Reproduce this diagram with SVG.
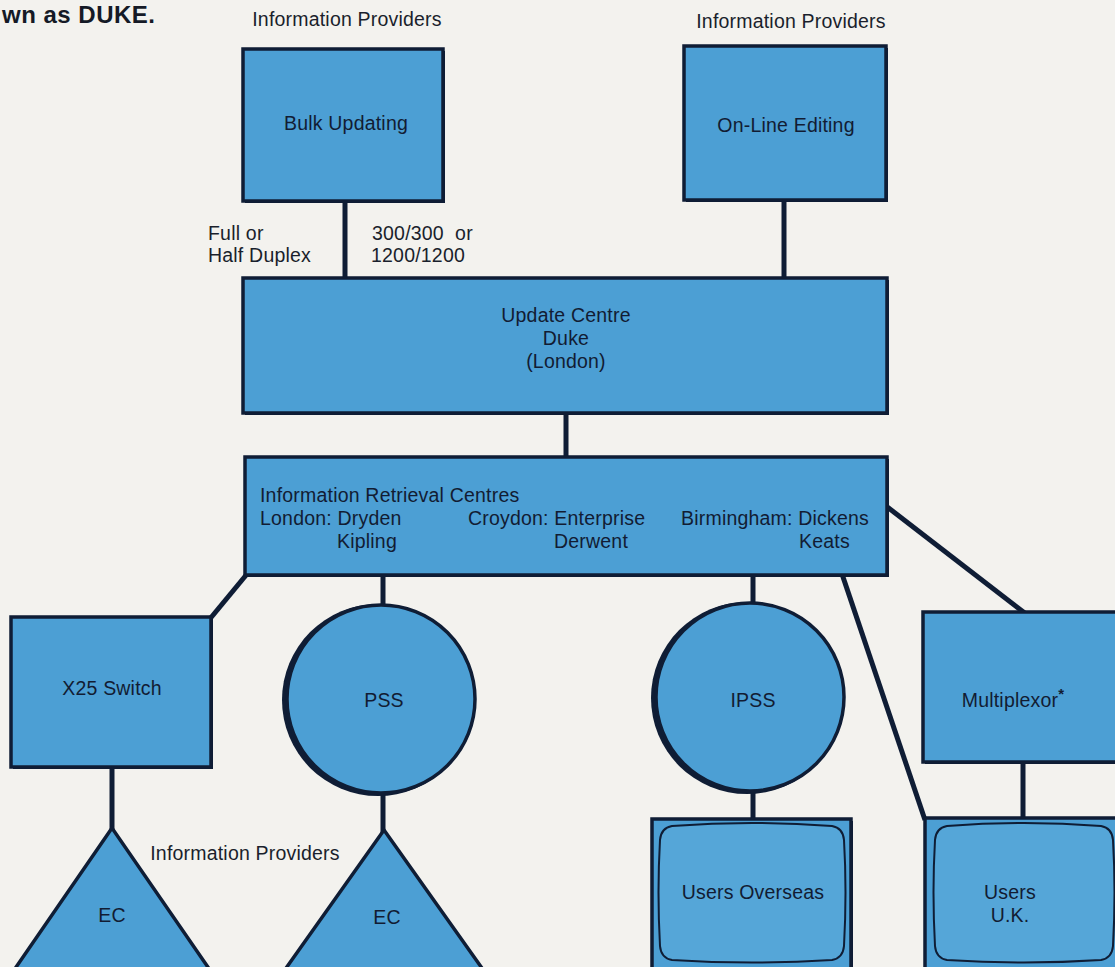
<svg xmlns="http://www.w3.org/2000/svg" width="1115" height="967" viewBox="0 0 1115 967">
<style>
  .bg { fill: #f3f2ee; }
  .box { fill: #4c9fd4; stroke: #0f1d35; stroke-width: 3.5; }
  .shadow { fill: #0f1d35; }
  .screen { fill: #55a6d8; stroke: #0f1d35; stroke-width: 2; }
  .wire { stroke: #0f1d35; stroke-width: 5; fill: none; stroke-linecap: butt; }
  text { font-family: "Liberation Sans", Arial, Helvetica, sans-serif; font-size: 19.5px; fill: #121c33; letter-spacing: 0.2px; }
  .lbl { fill: #1a1f2c; }
  .c { text-anchor: middle; }
  .title { font-weight: bold; font-size: 24px; fill: #151a26; letter-spacing: 0.5px; }
</style>
<rect class="bg" x="0" y="0" width="1115" height="967"/>

<g id="heading">
  <text class="title" x="2" y="23">wn as DUKE.</text>
</g>

<g id="connectors">
  <line class="wire" x1="345" y1="200" x2="345" y2="280"/>
  <line class="wire" x1="784" y1="199" x2="784" y2="280"/>
  <line class="wire" x1="566" y1="412" x2="566" y2="458"/>
  <line class="wire" x1="247" y1="574" x2="209" y2="620"/>
  <line class="wire" x1="383" y1="574" x2="383" y2="608"/>
  <line class="wire" x1="753" y1="574" x2="753" y2="605"/>
  <line class="wire" x1="842" y1="574" x2="925" y2="820"/>
  <line class="wire" x1="886" y1="506" x2="1026" y2="614"/>
  <line class="wire" x1="112" y1="766" x2="112" y2="832"/>
  <line class="wire" x1="383" y1="792" x2="383" y2="834"/>
  <line class="wire" x1="753" y1="792" x2="753" y2="821"/>
  <line class="wire" x1="1023" y1="761" x2="1023" y2="820"/>
  <text class="lbl" x="208" y="240">Full or</text>
  <text class="lbl" x="208" y="262">Half Duplex</text>
  <text class="lbl" x="372" y="240" xml:space="preserve">300/300  or</text>
  <text class="lbl" x="371" y="262">1200/1200</text>
</g>

<g id="ip-top-left">
  <text class="lbl c" x="347" y="26">Information Providers</text>
</g>
<g id="ip-top-right">
  <text class="lbl c" x="791" y="28">Information Providers</text>
</g>
<g id="ip-bottom">
  <text class="lbl c" x="245" y="860">Information Providers</text>
</g>

<g id="bulk-updating">
  <rect class="shadow" x="245" y="51" width="200" height="152"/>
  <rect class="box" x="243" y="49" width="200" height="152"/>
  <text class="c" x="346" y="130">Bulk Updating</text>
</g>

<g id="online-editing">
  <rect class="shadow" x="686" y="48" width="202" height="154"/>
  <rect class="box" x="684" y="46" width="202" height="154"/>
  <text class="c" x="786" y="132">On-Line Editing</text>
</g>

<g id="update-centre">
  <rect class="shadow" x="245" y="280" width="644" height="135"/>
  <rect class="box" x="243" y="278" width="644" height="135"/>
  <text class="c" x="566" y="322">Update Centre</text>
  <text class="c" x="566" y="345">Duke</text>
  <text class="c" x="566" y="368">(London)</text>
</g>

<g id="retrieval-centres">
  <rect class="shadow" x="247" y="459" width="642" height="118"/>
  <rect class="box" x="245" y="457" width="642" height="118"/>
  <text x="260" y="502">Information Retrieval Centres</text>
  <text x="260" y="525">London: Dryden</text>
  <text x="337" y="548">Kipling</text>
  <text x="468" y="525">Croydon: Enterprise</text>
  <text x="628" y="548" text-anchor="end">Derwent</text>
  <text x="681" y="525">Birmingham: Dickens</text>
  <text x="799" y="548">Keats</text>
</g>

<g id="x25-switch">
  <rect class="shadow" x="13" y="619" width="200" height="150"/>
  <rect class="box" x="11" y="617" width="200" height="150"/>
  <text class="c" x="112" y="695">X25 Switch</text>
</g>

<g id="pss">
  <circle class="shadow" cx="378" cy="700" r="96"/>
  <circle class="box" cx="381" cy="699" r="94" stroke-width="3"/>
  <text class="c" x="384" y="707">PSS</text>
</g>

<g id="ipss">
  <circle class="shadow" cx="747" cy="698" r="96"/>
  <circle class="box" cx="750" cy="697" r="94" stroke-width="3"/>
  <text class="c" x="753" y="707">IPSS</text>
</g>

<g id="multiplexor">
  <rect class="shadow" x="925" y="614" width="200" height="150"/>
  <rect class="box" x="923" y="612" width="200" height="150"/>
  <text class="c" x="1013" y="707">Multiplexor<tspan font-size="15" font-weight="bold" dy="-8">*</tspan></text>
</g>

<g id="ec-left">
  <polygon class="box" points="112,828 -8,1002 232,1002" stroke-width="4"/>
  <text class="c" x="112" y="922">EC</text>
</g>

<g id="ec-right">
  <polygon class="box" points="384,830 262,1002 506,1002" stroke-width="4"/>
  <text class="c" x="387" y="924">EC</text>
</g>

<g id="users-overseas">
  <rect class="shadow" x="654" y="821" width="199" height="160"/>
  <rect class="box" x="652" y="819" width="199" height="160"/>
  <path class="screen" d="M672,826 Q752,820 832,826 Q843,828 844,840 Q847,892 844,946 Q843,958 832,960 Q752,965 672,960 Q661,958 660,946 Q657,892 660,840 Q661,828 672,826 Z"/>
  <text class="c" x="753" y="899">Users Overseas</text>
</g>

<g id="users-uk">
  <rect class="shadow" x="927" y="820" width="200" height="160"/>
  <rect class="box" x="925" y="818" width="200" height="160"/>
  <path class="screen" d="M947,826 Q1024,820 1101,826 Q1112,828 1113,840 Q1116,892 1113,946 Q1112,958 1101,960 Q1024,965 947,960 Q936,958 935,946 Q932,892 935,840 Q936,828 947,826 Z"/>
  <text class="c" x="1010" y="899">Users</text>
  <text class="c" x="1010" y="922">U.K.</text>
</g>
</svg>
